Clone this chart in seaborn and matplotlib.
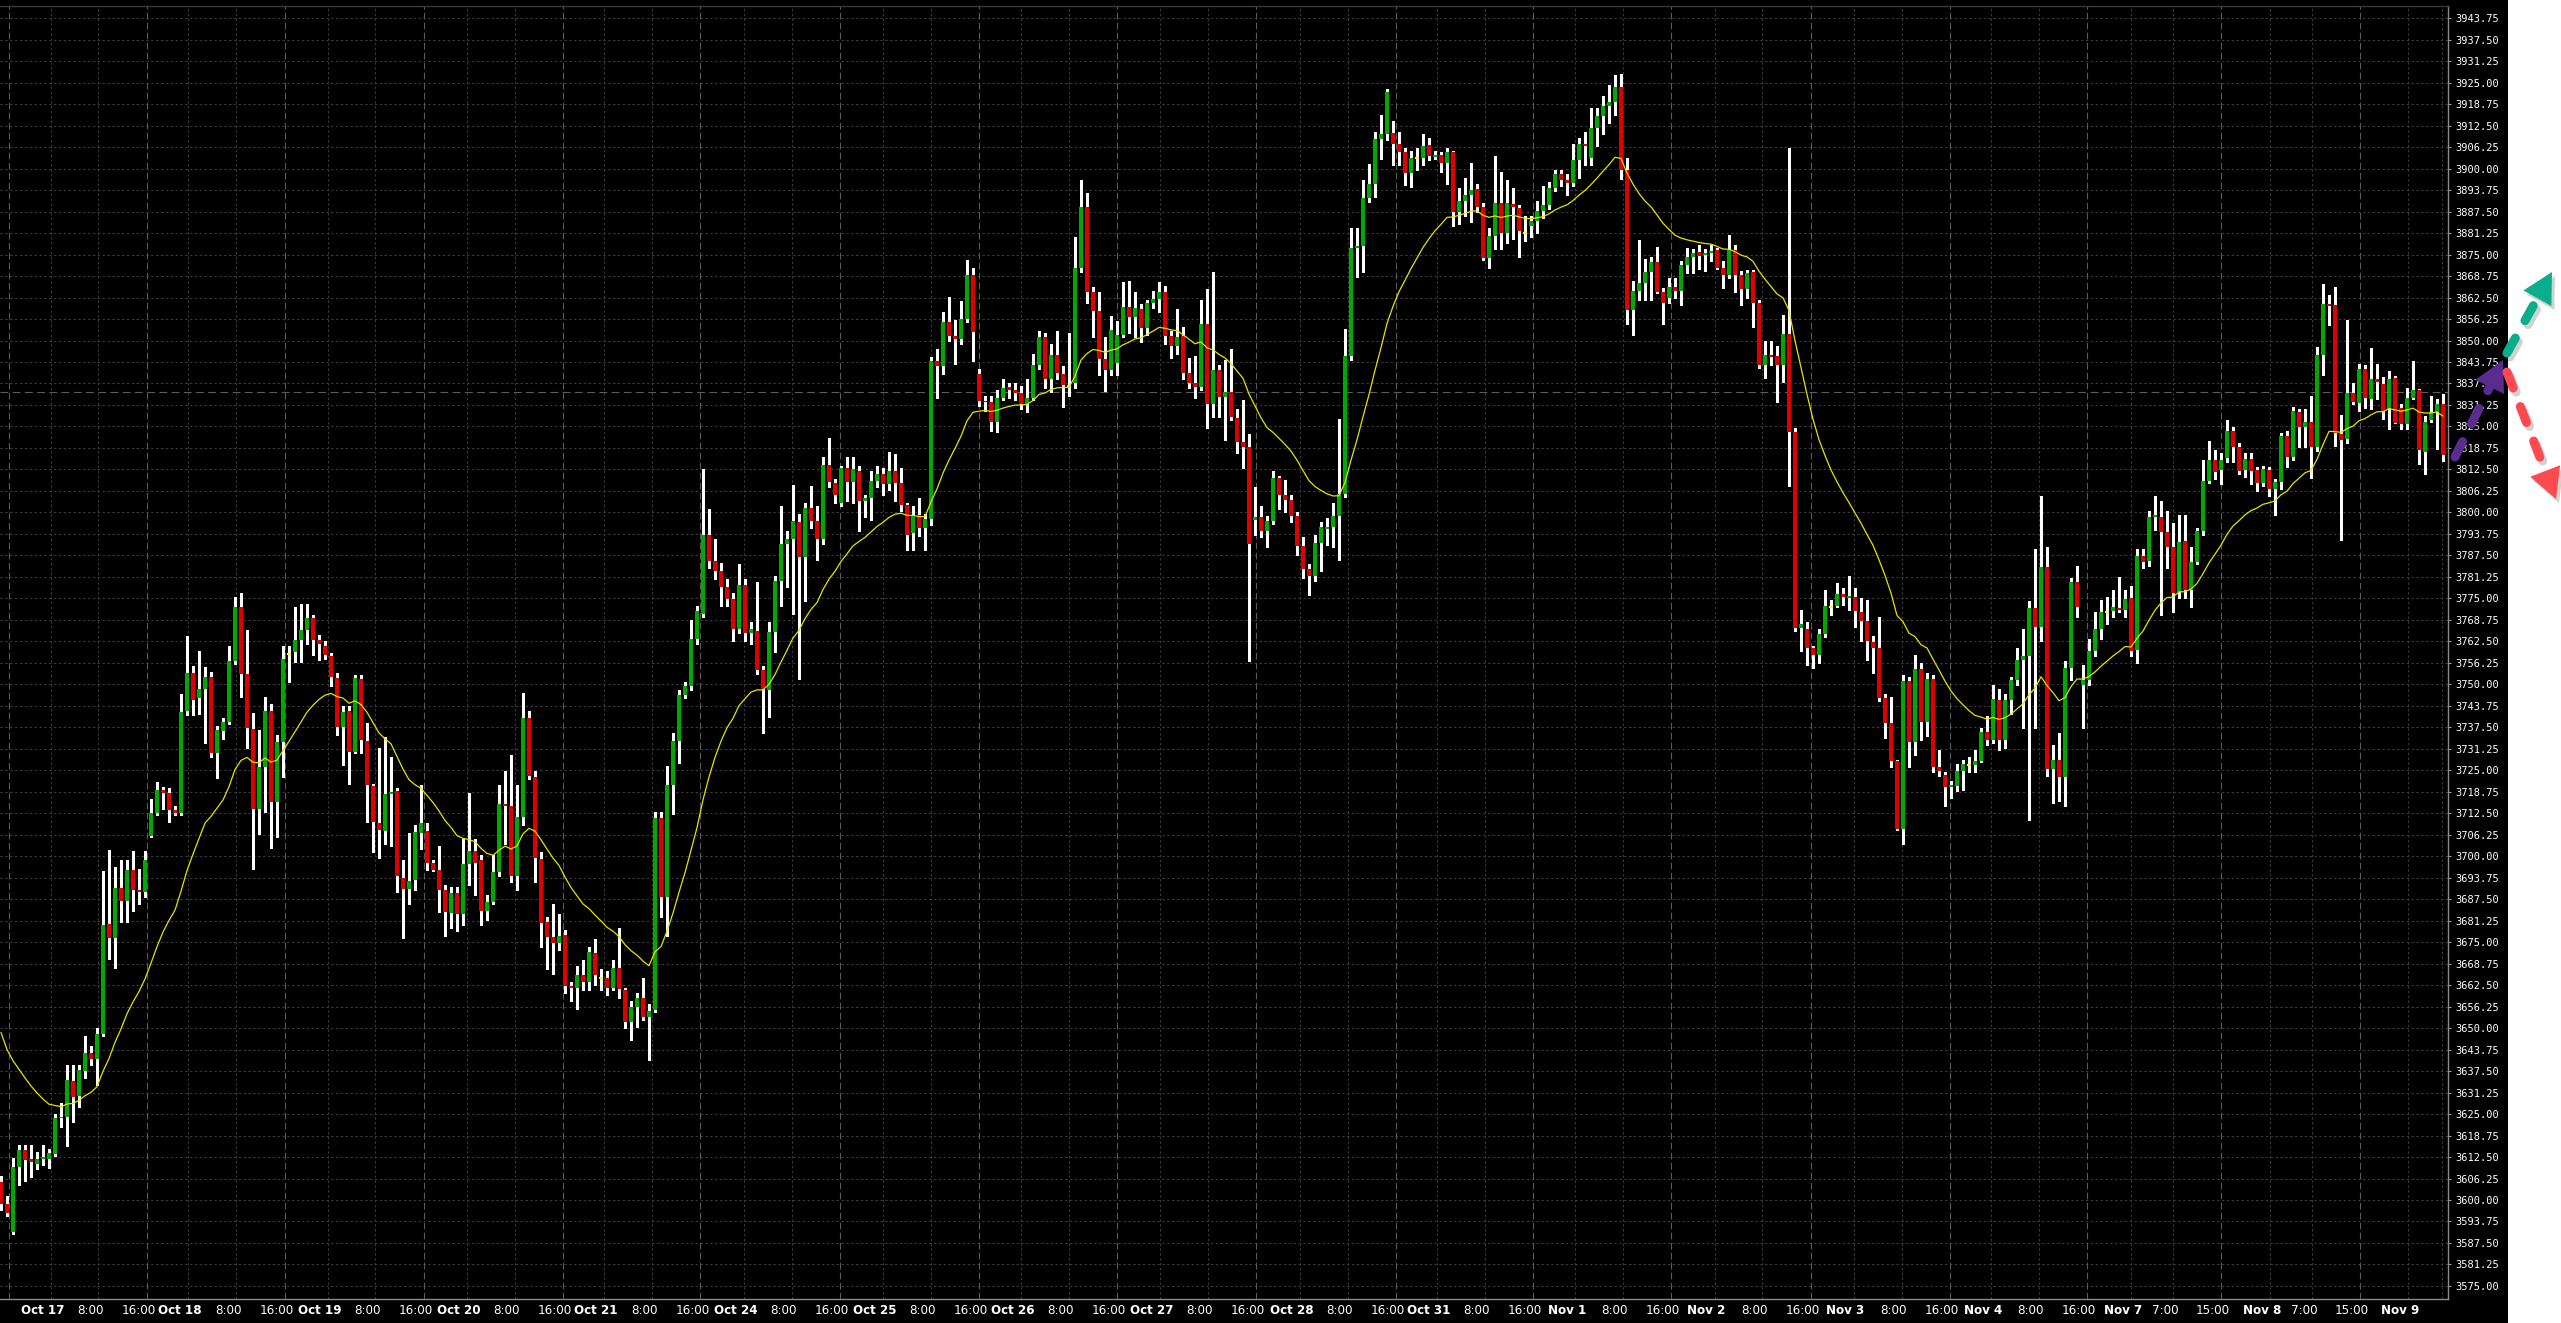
import numpy as np
import pandas as pd
import seaborn as sns
import matplotlib.pyplot as plt
from matplotlib.patches import Rectangle, Polygon

# hourly OHLC candles from left to right
opens = [
    3605.3, 3598.8, 3590.8, 3609.6, 3614.4, 3611.8, 3610.6, 3612.0, 3612.0, 3613.3,
    3623.8, 3624.1, 3634.7, 3630.3, 3637.4, 3642.7, 3641.0, 3648.4, 3680.4, 3676.3,
    3690.8, 3687.0, 3696.1, 3690.2, 3689.6, 3706.0, 3712.6, 3719.3, 3718.3, 3713.5,
    3712.5, 3742.1, 3753.3, 3745.9, 3748.6, 3752.2, 3730.1, 3736.3, 3739.1, 3756.9,
    3772.6, 3753.0, 3737.1, 3713.6, 3725.9, 3742.1, 3715.8, 3733.2, 3758.9, 3759.5,
    3762.9, 3765.7, 3769.3, 3762.9, 3761.1, 3758.3, 3751.8, 3737.7, 3742.1, 3730.2,
    3751.5, 3733.4, 3720.5, 3709.7, 3707.3, 3718.2, 3719.1, 3693.8, 3690.5, 3693.0,
    3706.7, 3707.4, 3698.0, 3696.1, 3690.1, 3683.5, 3689.4, 3683.1, 3697.7, 3701.6,
    3698.8, 3684.2, 3686.7, 3695.3, 3715.3, 3714.5, 3694.1, 3711.4, 3740.2, 3722.9,
    3699.3, 3681.0, 3676.4, 3674.7, 3677.2, 3662.1, 3661.8, 3665.4, 3663.5, 3671.7,
    3664.7, 3664.7, 3661.8, 3667.6, 3661.0, 3651.9, 3656.0, 3658.7, 3653.2, 3655.2,
    3711.1, 3688.1, 3720.8, 3733.4, 3746.8, 3749.4, 3763.3, 3770.4, 3793.5, 3785.8,
    3782.9, 3778.2, 3774.8, 3766.0, 3778.9, 3764.9, 3765.6, 3754.3, 3748.3, 3765.2,
    3780.1, 3790.8, 3792.4, 3797.1, 3786.9, 3801.4, 3797.4, 3792.4, 3813.9, 3808.6,
    3802.6, 3812.8, 3808.9, 3812.0, 3803.4, 3804.2, 3809.2, 3811.3, 3808.4, 3812.0,
    3808.6, 3802.1, 3794.0, 3799.1, 3795.5, 3798.2, 3844.0, 3842.7, 3855.3, 3851.4,
    3850.3, 3856.4, 3869.1, 3840.4, 3832.5, 3832.0, 3826.2, 3833.4, 3836.5, 3835.5,
    3834.6, 3831.4, 3833.4, 3843.0, 3850.9, 3838.7, 3845.8, 3840.4, 3836.8, 3837.7,
    3871.0, 3888.7, 3864.1, 3858.5, 3844.5, 3841.4, 3843.6, 3851.5, 3859.8, 3856.8,
    3859.2, 3853.6, 3860.9, 3862.2, 3864.1, 3851.3, 3848.5, 3851.3, 3840.5, 3837.7,
    3836.5, 3854.8, 3831.6, 3841.4, 3833.6, 3835.0, 3827.4, 3820.6, 3819.1, 3797.9,
    3798.6, 3794.5, 3797.6, 3810.0, 3805.0, 3803.5, 3799.0, 3790.2, 3783.4, 3781.5,
    3791.1, 3795.3, 3795.9, 3799.0, 3805.3, 3845.4, 3876.9, 3877.5, 3891.4, 3895.5,
    3908.5, 3910.1, 3910.5, 3907.1, 3904.9, 3898.8, 3903.2, 3903.2, 3906.8, 3903.4,
    3904.0, 3901.6, 3904.9, 3887.5, 3890.6, 3892.2, 3894.2, 3888.8, 3873.9, 3880.5,
    3890.0, 3881.4, 3889.7, 3888.4, 3881.4, 3883.3, 3884.7, 3887.8, 3889.4, 3894.5,
    3898.5, 3896.7, 3895.9, 3902.4, 3907.3, 3903.2, 3911.7, 3915.4, 3918.1, 3919.3,
    3923.6, 3899.7, 3858.9, 3864.5, 3866.7, 3869.8, 3872.9, 3864.1, 3862.4, 3865.5,
    3864.5, 3872.0, 3874.4, 3875.7, 3874.8, 3875.5, 3876.2, 3871.2, 3869.2, 3876.2,
    3869.2, 3865.0, 3869.8, 3860.8, 3843.0, 3845.8, 3845.6, 3843.0, 3851.9, 3823.5,
    3766.5, 3766.1, 3760.5, 3758.6, 3764.7, 3772.4, 3772.7, 3776.3, 3775.2, 3775.5,
    3771.0, 3768.5, 3762.3, 3760.5, 3746.0, 3738.6, 3727.7, 3708.0, 3750.9, 3733.3,
    3754.4, 3739.0, 3751.6, 3726.0, 3723.5, 3720.1, 3720.4, 3724.9, 3726.4, 3726.4,
    3727.7, 3736.1, 3733.7, 3745.4, 3733.7, 3745.3, 3751.3, 3757.2, 3758.3, 3772.1,
    3766.8, 3784.0, 3725.3, 3728.1, 3722.9, 3754.8, 3779.7, 3749.9, 3751.3, 3759.7,
    3766.1, 3771.0, 3771.3, 3772.1, 3771.6, 3775.2, 3760.0, 3787.2, 3785.8, 3798.7,
    3798.7, 3794.2, 3790.0, 3776.9, 3791.8, 3777.3, 3785.5, 3794.5, 3809.0, 3815.2,
    3812.3, 3815.7, 3823.8, 3819.1, 3812.2, 3815.6, 3812.2, 3808.6, 3812.2, 3806.9,
    3808.7, 3822.1, 3816.0, 3829.2, 3824.9, 3826.3, 3818.9, 3845.9, 3860.7, 3860.2,
    3822.7, 3821.3, 3834.6, 3831.7, 3841.6, 3832.9, 3838.9, 3837.4, 3830.0, 3839.2,
    3830.5, 3825.6, 3833.4, 3835.5, 3817.7, 3827.0, 3829.2, 3831.6,
]
highs = [
    3607.0, 3601.1, 3612.1, 3616.0, 3616.0, 3616.0, 3614.1, 3616.0, 3614.8, 3625.1,
    3628.3, 3639.4, 3639.4, 3639.4, 3647.8, 3644.8, 3650.1, 3695.7, 3701.8, 3697.0,
    3699.0, 3699.0, 3701.6, 3696.4, 3701.6, 3716.5, 3721.7, 3720.0, 3719.7, 3714.5,
    3747.2, 3764.0, 3755.4, 3759.6, 3755.0, 3753.7, 3737.9, 3740.2, 3761.2, 3775.4,
    3776.5, 3765.7, 3741.7, 3736.6, 3746.3, 3744.3, 3735.3, 3761.2, 3761.0, 3772.6,
    3773.5, 3773.5, 3770.3, 3764.4, 3762.5, 3759.2, 3753.4, 3743.7, 3743.7, 3752.8,
    3752.8, 3738.8, 3721.0, 3731.4, 3734.6, 3728.8, 3719.7, 3698.8, 3706.7, 3709.0,
    3720.8, 3709.8, 3698.8, 3703.0, 3691.7, 3690.9, 3690.9, 3705.1, 3718.4, 3705.1,
    3700.4, 3688.6, 3700.4, 3720.8, 3724.8, 3729.4, 3720.8, 3747.5, 3742.1, 3724.8,
    3701.2, 3682.3, 3686.2, 3683.1, 3678.4, 3663.4, 3668.1, 3669.7, 3673.6, 3676.0,
    3667.3, 3666.5, 3669.7, 3679.1, 3661.8, 3657.9, 3660.2, 3664.5, 3657.1, 3713.0,
    3713.0, 3726.3, 3735.7, 3748.3, 3750.7, 3768.8, 3772.7, 3812.5, 3801.0, 3792.4,
    3785.3, 3780.6, 3776.7, 3785.0, 3780.6, 3768.0, 3779.8, 3755.4, 3768.0, 3781.4,
    3801.8, 3794.7, 3808.1, 3799.5, 3802.6, 3807.6, 3801.8, 3816.0, 3821.5, 3809.7,
    3813.6, 3816.0, 3816.0, 3813.6, 3805.0, 3812.0, 3813.6, 3812.8, 3817.5, 3817.1,
    3812.8, 3802.6, 3801.8, 3804.2, 3799.5, 3845.1, 3847.4, 3858.4, 3862.7, 3856.1,
    3861.6, 3873.4, 3871.0, 3841.6, 3834.0, 3834.0, 3835.6, 3838.7, 3837.7, 3837.5,
    3836.8, 3838.7, 3846.0, 3852.7, 3852.1, 3849.1, 3852.9, 3842.6, 3852.1, 3880.2,
    3896.7, 3893.0, 3865.6, 3864.1, 3850.9, 3857.0, 3855.8, 3867.0, 3867.4, 3864.0,
    3860.7, 3861.9, 3864.3, 3867.0, 3865.8, 3852.7, 3859.2, 3853.9, 3844.8, 3845.4,
    3861.9, 3864.9, 3869.8, 3843.0, 3844.2, 3847.5, 3830.1, 3832.6, 3822.8, 3807.5,
    3802.0, 3799.0, 3812.1, 3810.6, 3809.4, 3805.1, 3800.2, 3792.9, 3784.9, 3793.5,
    3797.2, 3798.4, 3802.6, 3827.1, 3853.3, 3882.7, 3882.7, 3896.7, 3901.2, 3910.7,
    3915.6, 3923.2, 3913.8, 3910.7, 3905.9, 3905.2, 3905.9, 3910.1, 3908.9, 3905.2,
    3904.9, 3905.9, 3905.2, 3894.3, 3897.3, 3901.6, 3895.5, 3890.0, 3882.7, 3903.7,
    3899.1, 3896.7, 3894.3, 3889.4, 3886.3, 3886.3, 3890.6, 3894.9, 3896.1, 3899.7,
    3899.7, 3898.5, 3907.1, 3908.9, 3910.7, 3917.5, 3917.5, 3921.1, 3924.2, 3927.2,
    3927.5, 3903.2, 3867.4, 3879.3, 3873.7, 3874.4, 3877.2, 3865.3, 3868.1, 3868.1,
    3873.0, 3876.8, 3876.5, 3877.9, 3876.5, 3877.9, 3876.8, 3873.0, 3880.7, 3877.9,
    3870.2, 3870.6, 3870.6, 3861.7, 3849.8, 3849.8, 3848.4, 3857.5, 3906.0, 3824.5,
    3771.7, 3768.2, 3761.2, 3766.1, 3777.3, 3774.5, 3779.4, 3778.0, 3781.5, 3778.0,
    3775.2, 3774.5, 3764.0, 3769.6, 3747.1, 3746.4, 3728.1, 3752.7, 3752.0, 3758.4,
    3756.2, 3753.4, 3752.7, 3730.9, 3724.6, 3721.8, 3726.7, 3728.1, 3728.8, 3730.9,
    3737.2, 3740.8, 3749.9, 3748.5, 3747.1, 3752.0, 3760.5, 3766.1, 3774.1, 3789.3,
    3804.7, 3790.0, 3732.3, 3735.8, 3756.9, 3780.9, 3784.4, 3755.5, 3763.3, 3771.0,
    3774.5, 3775.5, 3777.3, 3781.1, 3777.3, 3778.7, 3789.3, 3789.3, 3800.5, 3804.7,
    3803.4, 3800.5, 3797.0, 3799.1, 3799.1, 3790.0, 3795.6, 3815.3, 3820.9, 3818.1,
    3817.4, 3827.0, 3824.7, 3820.2, 3817.4, 3817.4, 3813.2, 3813.5, 3813.2, 3809.7,
    3823.1, 3823.8, 3830.8, 3830.0, 3830.0, 3834.0, 3848.1, 3866.3, 3863.1, 3865.5,
    3828.2, 3855.9, 3837.7, 3843.2, 3842.9, 3847.9, 3843.3, 3839.4, 3841.1, 3839.7,
    3831.5, 3836.3, 3844.0, 3835.8, 3827.9, 3834.0, 3832.9, 3834.4,
]
lows = [
    3597.0, 3595.3, 3590.1, 3604.4, 3605.4, 3606.6, 3608.9, 3610.2, 3609.3, 3612.8,
    3621.2, 3615.8, 3622.8, 3627.0, 3635.5, 3639.4, 3633.5, 3647.8, 3670.2, 3667.6,
    3680.8, 3680.8, 3684.1, 3686.0, 3688.0, 3705.5, 3711.9, 3713.6, 3710.0, 3711.9,
    3711.9, 3741.1, 3741.1, 3741.5, 3732.9, 3728.8, 3722.6, 3734.0, 3738.5, 3756.0,
    3746.3, 3731.4, 3696.4, 3706.5, 3713.0, 3702.5, 3705.5, 3723.0, 3750.8, 3756.6,
    3756.6, 3761.8, 3758.6, 3757.0, 3757.3, 3749.5, 3735.3, 3726.5, 3721.0, 3730.1,
    3730.1, 3710.0, 3701.2, 3699.6, 3703.5, 3702.9, 3689.6, 3676.3, 3686.2, 3690.2,
    3702.0, 3696.0, 3695.7, 3683.8, 3676.8, 3679.1, 3678.3, 3679.9, 3691.7, 3688.6,
    3679.9, 3681.5, 3686.2, 3694.1, 3703.5, 3692.5, 3690.1, 3709.0, 3722.5, 3692.5,
    3673.6, 3667.3, 3665.8, 3672.8, 3660.2, 3657.9, 3655.5, 3661.0, 3661.0, 3662.6,
    3661.0, 3659.5, 3661.0, 3658.7, 3650.0, 3646.4, 3650.3, 3652.4, 3640.6, 3654.8,
    3682.3, 3676.8, 3712.2, 3727.1, 3746.0, 3748.3, 3761.7, 3769.6, 3783.7, 3780.6,
    3772.7, 3772.7, 3762.5, 3764.9, 3762.5, 3761.7, 3753.1, 3735.8, 3740.5, 3759.4,
    3772.7, 3778.2, 3770.4, 3751.5, 3774.3, 3795.5, 3786.1, 3790.8, 3807.3, 3802.6,
    3801.8, 3803.4, 3802.6, 3794.7, 3798.7, 3797.9, 3807.3, 3805.0, 3806.5, 3803.4,
    3800.3, 3789.2, 3789.2, 3793.2, 3789.2, 3796.3, 3833.3, 3840.4, 3849.8, 3843.2,
    3849.0, 3855.3, 3844.0, 3830.9, 3829.4, 3823.8, 3823.4, 3832.6, 3833.2, 3832.6,
    3830.1, 3829.3, 3832.6, 3841.7, 3836.2, 3835.0, 3838.7, 3830.7, 3833.8, 3836.2,
    3869.8, 3860.9, 3850.9, 3839.9, 3835.3, 3839.9, 3839.9, 3850.9, 3852.1, 3850.9,
    3849.7, 3851.5, 3859.4, 3858.2, 3849.1, 3845.0, 3846.0, 3838.7, 3836.2, 3833.2,
    3835.6, 3824.6, 3827.7, 3827.7, 3821.0, 3826.9, 3817.3, 3813.0, 3756.8, 3793.5,
    3792.9, 3789.8, 3796.6, 3801.1, 3800.2, 3797.2, 3787.6, 3781.0, 3776.1, 3780.0,
    3783.1, 3790.4, 3789.8, 3786.2, 3804.5, 3844.2, 3868.6, 3869.8, 3890.2, 3891.8,
    3902.8, 3908.3, 3901.0, 3901.0, 3895.1, 3894.6, 3899.7, 3901.0, 3902.4, 3902.8,
    3899.1, 3895.5, 3883.3, 3883.9, 3886.3, 3884.5, 3887.5, 3873.5, 3871.0, 3876.5,
    3876.5, 3878.4, 3879.6, 3874.4, 3879.0, 3880.2, 3881.4, 3885.7, 3888.2, 3893.6,
    3894.9, 3892.4, 3894.9, 3897.3, 3901.0, 3901.0, 3906.5, 3910.1, 3913.2, 3915.6,
    3897.0, 3854.7, 3851.5, 3861.7, 3861.7, 3861.7, 3863.9, 3854.7, 3861.0, 3862.4,
    3860.3, 3869.5, 3869.5, 3870.9, 3870.2, 3873.0, 3870.9, 3865.3, 3868.1, 3864.1,
    3860.3, 3862.4, 3854.0, 3842.0, 3839.2, 3842.8, 3832.2, 3837.8, 3807.6, 3765.4,
    3759.7, 3755.5, 3754.8, 3756.2, 3763.7, 3770.3, 3772.4, 3773.1, 3771.7, 3766.8,
    3762.6, 3757.0, 3753.4, 3745.0, 3734.4, 3726.0, 3707.7, 3703.5, 3726.0, 3729.5,
    3733.7, 3735.1, 3724.6, 3723.2, 3714.7, 3716.8, 3719.0, 3719.2, 3724.6, 3724.6,
    3727.4, 3732.3, 3733.0, 3730.9, 3731.6, 3741.5, 3749.9, 3737.2, 3710.5, 3737.2,
    3762.6, 3723.2, 3715.4, 3716.1, 3714.7, 3751.3, 3769.6, 3737.2, 3749.9, 3758.3,
    3763.3, 3767.5, 3769.6, 3771.0, 3769.6, 3758.3, 3756.2, 3783.7, 3784.4, 3794.9,
    3770.3, 3783.7, 3771.0, 3775.2, 3775.2, 3772.4, 3785.1, 3793.5, 3808.5, 3809.7,
    3808.3, 3814.6, 3814.6, 3811.1, 3810.4, 3808.3, 3806.2, 3807.6, 3804.8, 3799.1,
    3806.9, 3813.2, 3815.3, 3818.9, 3818.9, 3809.9, 3817.9, 3840.1, 3854.4, 3819.3,
    3792.1, 3820.1, 3831.5, 3829.5, 3830.5, 3830.0, 3832.9, 3827.1, 3824.2, 3825.9,
    3824.2, 3824.2, 3832.9, 3814.0, 3811.1, 3826.3, 3818.4, 3815.0,
]
closes = [
    3598.9, 3596.3, 3609.6, 3614.5, 3611.5, 3611.0, 3612.0, 3612.2, 3613.8, 3623.8,
    3624.2, 3634.8, 3630.0, 3637.7, 3642.7, 3641.0, 3648.2, 3680.1, 3676.2, 3690.8,
    3686.9, 3696.1, 3690.2, 3689.5, 3699.0, 3712.6, 3719.3, 3718.4, 3713.4, 3712.5,
    3742.0, 3753.3, 3745.5, 3748.6, 3752.2, 3730.1, 3736.6, 3739.0, 3756.9, 3772.6,
    3753.1, 3737.2, 3713.6, 3725.9, 3742.1, 3715.8, 3733.2, 3757.3, 3758.9, 3762.9,
    3765.7, 3769.3, 3763.0, 3761.6, 3758.6, 3752.2, 3737.7, 3742.0, 3730.2, 3751.7,
    3733.7, 3720.8, 3709.9, 3707.5, 3718.2, 3718.6, 3694.1, 3690.5, 3692.8, 3707.0,
    3709.8, 3698.0, 3696.1, 3690.1, 3683.8, 3689.4, 3683.1, 3697.7, 3701.6, 3698.0,
    3684.2, 3686.7, 3695.3, 3715.3, 3714.5, 3694.1, 3711.4, 3740.2, 3723.2, 3699.6,
    3680.7, 3676.4, 3674.7, 3676.8, 3662.1, 3661.8, 3665.4, 3663.5, 3672.0, 3665.3,
    3664.7, 3661.8, 3667.6, 3661.5, 3651.9, 3656.0, 3658.8, 3653.2, 3655.0, 3711.1,
    3688.1, 3720.8, 3733.4, 3746.8, 3749.4, 3763.3, 3771.2, 3793.5, 3785.8, 3782.9,
    3778.2, 3774.8, 3766.0, 3778.9, 3764.9, 3766.0, 3754.3, 3748.6, 3765.2, 3780.1,
    3790.8, 3792.4, 3797.4, 3786.9, 3801.4, 3797.4, 3792.4, 3813.9, 3808.9, 3805.0,
    3812.8, 3808.9, 3812.5, 3803.4, 3804.2, 3809.2, 3811.3, 3808.4, 3812.0, 3808.6,
    3802.1, 3793.5, 3799.1, 3795.5, 3798.2, 3844.0, 3842.7, 3855.3, 3851.4, 3850.3,
    3856.4, 3869.1, 3852.5, 3832.5, 3832.0, 3826.2, 3833.3, 3836.2, 3835.5, 3834.8,
    3831.4, 3833.4, 3843.0, 3851.1, 3838.7, 3845.8, 3840.5, 3837.2, 3836.8, 3871.0,
    3888.7, 3864.1, 3858.5, 3844.5, 3841.4, 3853.0, 3851.5, 3859.8, 3856.8, 3859.4,
    3853.6, 3860.9, 3862.2, 3864.1, 3851.3, 3848.5, 3850.9, 3840.5, 3837.7, 3836.5,
    3854.8, 3831.6, 3841.4, 3833.6, 3835.0, 3827.7, 3820.6, 3819.1, 3790.8, 3798.6,
    3794.5, 3797.4, 3810.0, 3805.0, 3803.5, 3799.0, 3790.2, 3783.4, 3781.5, 3791.1,
    3795.7, 3795.9, 3799.0, 3805.3, 3845.4, 3876.9, 3877.5, 3891.4, 3895.5, 3908.5,
    3910.1, 3922.2, 3907.1, 3904.9, 3898.8, 3903.2, 3903.2, 3906.5, 3903.7, 3903.9,
    3901.6, 3904.9, 3887.5, 3890.6, 3892.2, 3893.7, 3888.8, 3873.9, 3880.5, 3890.0,
    3881.4, 3890.0, 3888.8, 3881.8, 3881.4, 3884.7, 3887.8, 3889.4, 3894.5, 3898.5,
    3896.7, 3895.9, 3902.4, 3907.3, 3906.5, 3911.7, 3915.4, 3918.1, 3919.3, 3923.6,
    3899.7, 3858.9, 3864.5, 3866.7, 3869.8, 3872.9, 3864.1, 3861.0, 3865.5, 3864.5,
    3872.0, 3874.4, 3875.4, 3874.7, 3875.5, 3876.1, 3871.2, 3869.2, 3876.2, 3869.2,
    3865.0, 3869.5, 3860.8, 3843.0, 3845.8, 3845.3, 3843.0, 3851.9, 3823.5, 3766.5,
    3767.5, 3760.5, 3758.6, 3764.7, 3772.7, 3772.4, 3776.3, 3775.5, 3775.5, 3771.3,
    3768.5, 3762.6, 3760.5, 3746.0, 3738.6, 3727.7, 3708.0, 3750.9, 3733.3, 3754.4,
    3739.0, 3751.6, 3726.0, 3724.9, 3720.1, 3720.6, 3724.9, 3726.7, 3726.4, 3727.7,
    3736.1, 3733.7, 3745.7, 3733.7, 3745.3, 3751.3, 3757.2, 3758.3, 3772.1, 3766.8,
    3784.0, 3725.3, 3728.0, 3722.9, 3754.8, 3779.7, 3772.4, 3751.3, 3759.7, 3766.1,
    3771.0, 3771.0, 3772.4, 3771.6, 3774.9, 3759.7, 3787.2, 3785.5, 3798.7, 3798.9,
    3794.2, 3790.0, 3776.6, 3791.4, 3777.3, 3785.5, 3794.5, 3809.0, 3815.2, 3811.8,
    3815.3, 3823.8, 3819.1, 3812.1, 3815.6, 3812.1, 3808.6, 3812.5, 3806.9, 3808.7,
    3822.1, 3816.0, 3829.4, 3824.9, 3826.3, 3818.9, 3845.9, 3860.7, 3860.0, 3823.0,
    3821.0, 3834.6, 3832.1, 3841.6, 3833.2, 3838.7, 3837.9, 3829.5, 3838.9, 3826.1,
    3825.6, 3833.4, 3835.5, 3818.2, 3826.3, 3829.2, 3831.6, 3816.7,
]
assert len(opens) == len(highs) == len(lows) == len(closes)

# value of the yellow 20-period average just before the first candle
ma_seed = 3654.0
# level of the long-dash horizontal line
marker_level = 3835.0

# bottom axis labels
day_labels = ['Oct 17', 'Oct 18', 'Oct 19', 'Oct 20', 'Oct 21', 'Oct 24', 'Oct 25',
              'Oct 26', 'Oct 27', 'Oct 28', 'Oct 31', 'Nov 1', 'Nov 2', 'Nov 3',
              'Nov 4', 'Nov 7', 'Nov 8', 'Nov 9']
hours_before = ['8:00', '16:00']
hours_after = ['7:00', '15:00']   # from Nov 7 on
dst_from = 'Nov 7'

y_ticks = np.arange(3575.0, 3943.76, 6.25)

# ---- layout (pixels of the 2561 x 1323 picture) ----
W, H = 2561, 1323
PLOT_RIGHT, PLOT_TOP, PLOT_BOTTOM = 2448, 6, 1299
DARK_RIGHT = 2508
day_label_px = [42.5, 180.3, 319.5, 458.7, 596.1, 735.7, 874.6, 1013, 1152, 1292,
                1429, 1567, 1706.5, 1845.6, 1983, 2123, 2262, 2400]


def px(x):
    # picture column -> candle index
    return (x - 1.0) / 6.0


sns.set_style('dark')
plt.rcParams['font.family'] = ['DejaVu Sans']

fig = plt.figure(figsize=(W / 100, H / 100), dpi=100, facecolor='white')

bg = fig.add_axes([0, 0, 1, 1])
bg.set_xlim(0, W)
bg.set_ylim(H, 0)
bg.axis('off')
bg.add_patch(Rectangle((0, 0), DARK_RIGHT, H, color='black', lw=0))

ax = fig.add_axes([0, 1 - PLOT_BOTTOM / H, PLOT_RIGHT / W, (PLOT_BOTTOM - PLOT_TOP) / H])
ax.set_facecolor('black')

o = np.array(opens)
h = np.array(highs)
l = np.array(lows)
c = np.array(closes)
x = np.arange(len(c))
up = c > o
down = c < o
flat = c == o

# grid
for yv in y_ticks:
    ax.axhline(yv, color='#3c3c3c', lw=0.7, ls=(0, (2.5, 2.5)), zorder=1)
ax.axhline(marker_level, color='#5c5c5c', lw=0.8, ls=(0, (7, 4)), zorder=1)

label_items = []
for d, name in enumerate(day_labels):
    base = day_label_px[d]
    label_items.append((name, base, True))
    if d == len(day_labels) - 1:
        continue
    if d >= day_labels.index(dst_from):
        label_items.append((hours_after[0], base + 42, False))
        label_items.append((hours_after[1], base + 90, False))
    else:
        label_items.append((hours_before[0], base + 47.9, False))
        label_items.append((hours_before[1], base + 96.2, False))

vlines = [(8.6, True), (2442, False)]
for name, cx, bold in label_items:
    vlines.append((cx + 8, name in ('16:00', '15:00')))
for vx, longdash in vlines:
    if longdash:
        ax.axvline(px(vx), color='#5a5a5a', lw=0.8, ls=(0, (6, 3)), zorder=1)
    else:
        ax.axvline(px(vx), color='#3c3c3c', lw=0.7, ls=(0, (2.5, 2.5)), zorder=1)

# candles
green, red, doji = '#00a800', '#dc0000', '#ffff00'
ax.vlines(x, l, h, color='white', lw=0.75, antialiased=False, zorder=2)
body = np.maximum(np.abs(c - o), 0.4)
bw = 0.72
ax.bar(x[up], body[up], bottom=o[up], width=bw, color=green, lw=0, zorder=3)
ax.bar(x[down], body[down], bottom=c[down], width=bw, color=red, lw=0, zorder=3)
ax.bar(x[flat], 0.6, bottom=o[flat] - 0.3, width=bw, color=doji, lw=0, zorder=3)

# yellow moving average
ma = pd.Series([ma_seed] + closes).ewm(span=20, adjust=False).mean().iloc[1:].to_numpy()
sns.lineplot(x=x, y=ma, ax=ax, color='#e4e400', linewidth=0.9, zorder=4)

ax.set_xlim(px(0), px(PLOT_RIGHT))
ax.set_ylim(3571.2, 3947.3)
ax.set_xlabel('')
ax.set_ylabel('')
ax.grid(False)

ax.yaxis.tick_right()
ax.set_yticks(y_ticks)
ax.set_yticklabels(['%.2f' % v for v in y_ticks], family='DejaVu Sans Mono')
ax.tick_params(axis='y', direction='out', length=2.5, width=0.8, colors='#9a9a9a',
               labelcolor='white', labelsize=7.5, pad=2.5)
ax.tick_params(axis='x', bottom=False, labelbottom=False)

ax.spines['left'].set_visible(False)
ax.spines['right'].set_color('#8c8c8c')
ax.spines['bottom'].set_color('#8c8c8c')
ax.spines['top'].set_color('#3a3a3a')
for side in ('right', 'bottom', 'top'):
    ax.spines[side].set_linewidth(1.0)

label_y = -(1310 - PLOT_BOTTOM) / (PLOT_BOTTOM - PLOT_TOP)
for name, cx, bold in label_items:
    ax.text(px(cx), label_y, name, transform=ax.get_xaxis_transform(),
            ha='center', va='center', color='white',
            fontsize=9.5,
            fontweight='bold' if bold else 'normal',
            fontstretch='condensed', family='DejaVu Sans', clip_on=False)

# dashed arrows on the right edge
ov = fig.add_axes([0, 0, 1, 1])
ov.set_xlim(0, W)
ov.set_ylim(H, 0)
ov.axis('off')
ov.patch.set_alpha(0)

arrows = [
    ((2455, 457), (2503, 360), '#5b2c8f'),
    ((2507, 353), (2552, 272), '#0bae8c'),
    ((2507, 372), (2556, 499), '#fc4a50'),
]


def dashed_arrow(axo, tail, tip, color, head_len=30, head_w=32):
    tail = np.array(tail, float)
    tip = np.array(tip, float)
    d = tip - tail
    u = d / np.hypot(*d)
    n = np.array([-u[1], u[0]])
    base = tip - u * head_len
    for off, col, alpha, z in [((3, 4), '#000000', 0.18, 5), ((0, 0), color, 1.0, 6)]:
        off = np.array(off, float)
        a, b = tail + off, base + u * 4 + off
        axo.plot([a[0], b[0]], [a[1], b[1]], color=col, alpha=alpha, lw=6.5,
                 dashes=(1.9, 2.2), dash_capstyle='round', zorder=z)
        tri = np.array([tip, base + n * head_w / 2, base - n * head_w / 2]) + off
        axo.add_patch(Polygon(tri, closed=True, color=col, alpha=alpha, lw=0, zorder=z))


for tail, tip, col in arrows:
    dashed_arrow(ov, tail, tip, col)

fig.savefig('out.png', dpi=100, facecolor='white')
